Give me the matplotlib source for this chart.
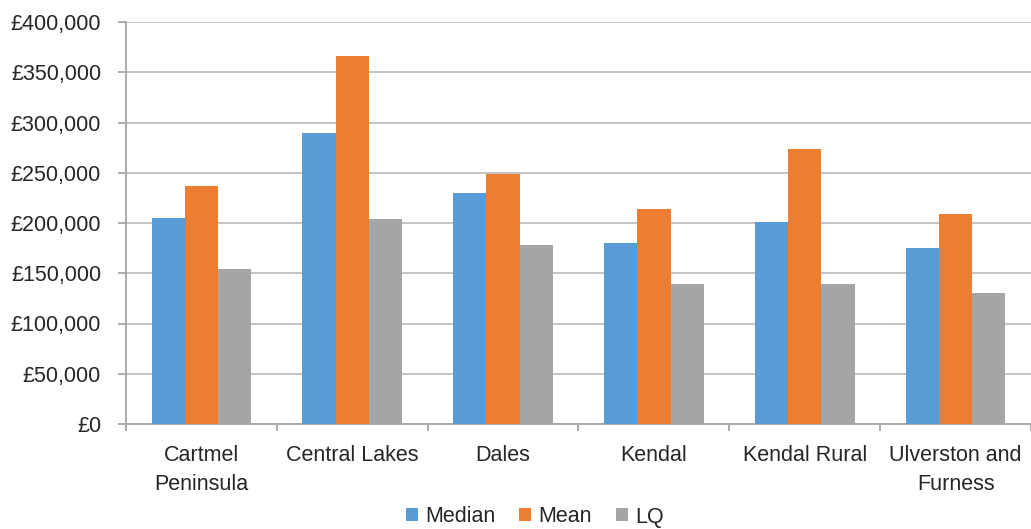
import matplotlib.pyplot as plt
import numpy as np
from matplotlib.ticker import FuncFormatter, FixedLocator

plt.rcParams['font.family'] = ['Liberation Sans', 'DejaVu Sans']
plt.rcParams['font.size'] = 15.5

# data
areas = ['Cartmel\nPeninsula', 'Central Lakes', 'Dales', 'Kendal', 'Kendal Rural', 'Ulverston and\nFurness']
median = [205000, 290000, 230000, 180000, 201000, 175000]
mean = [237000, 366000, 249000, 214000, 274000, 209000]
lq = [154000, 204000, 178000, 139000, 139000, 130000]

series = [('Median', median, '#5B9BD5'), ('Mean', mean, '#ED7D31'), ('LQ', lq, '#A5A5A5')]

fig = plt.figure(figsize=(10.31, 5.29), dpi=100)
ax = fig.add_axes([126/1031, 1 - 424/529, 905/1031, 402/529])

x = np.arange(len(areas))
w = 0.22
for i, (name, vals, col) in enumerate(series):
    ax.bar(x + (i - 1) * w, vals, w, color=col, label=name, zorder=3)

ax.set_xlim(-0.5, len(areas) - 0.5)
ax.set_ylim(0, 400000)
ax.set_yticks(np.arange(0, 400001, 50000))
ax.yaxis.set_major_formatter(FuncFormatter(lambda v, p: '£{:,.0f}'.format(v)))
ax.grid(axis='y', color='#BFBFBF', linewidth=1.3, zorder=0)

ax.set_xticks(x)
ax.set_xticklabels(areas, color='#262626', linespacing=1.5)
ax.xaxis.set_minor_locator(FixedLocator(np.arange(-0.5, len(areas), 1.0)))
ax.tick_params(axis='x', which='major', length=0, pad=15)
ax.tick_params(axis='x', which='minor', length=5, color='#A6A6A6', width=1.3)
ax.tick_params(axis='y', length=6, color='#A6A6A6', width=1.3, labelcolor='#262626', pad=12)

for s in ['top', 'right']:
    ax.spines[s].set_visible(False)
for s in ['left', 'bottom']:
    ax.spines[s].set_color('#A6A6A6')
    ax.spines[s].set_linewidth(1.3)

handles, labels = ax.get_legend_handles_labels()
fig.legend(handles, labels, loc='center', bbox_to_anchor=(535/1031, 1 - 517/529), ncol=3, frameon=False,
           handlelength=0.55, handleheight=0.55, handletextpad=0.35, columnspacing=1.1,
           borderaxespad=0, labelcolor='#262626')

fig.savefig('out.png', dpi=100)
